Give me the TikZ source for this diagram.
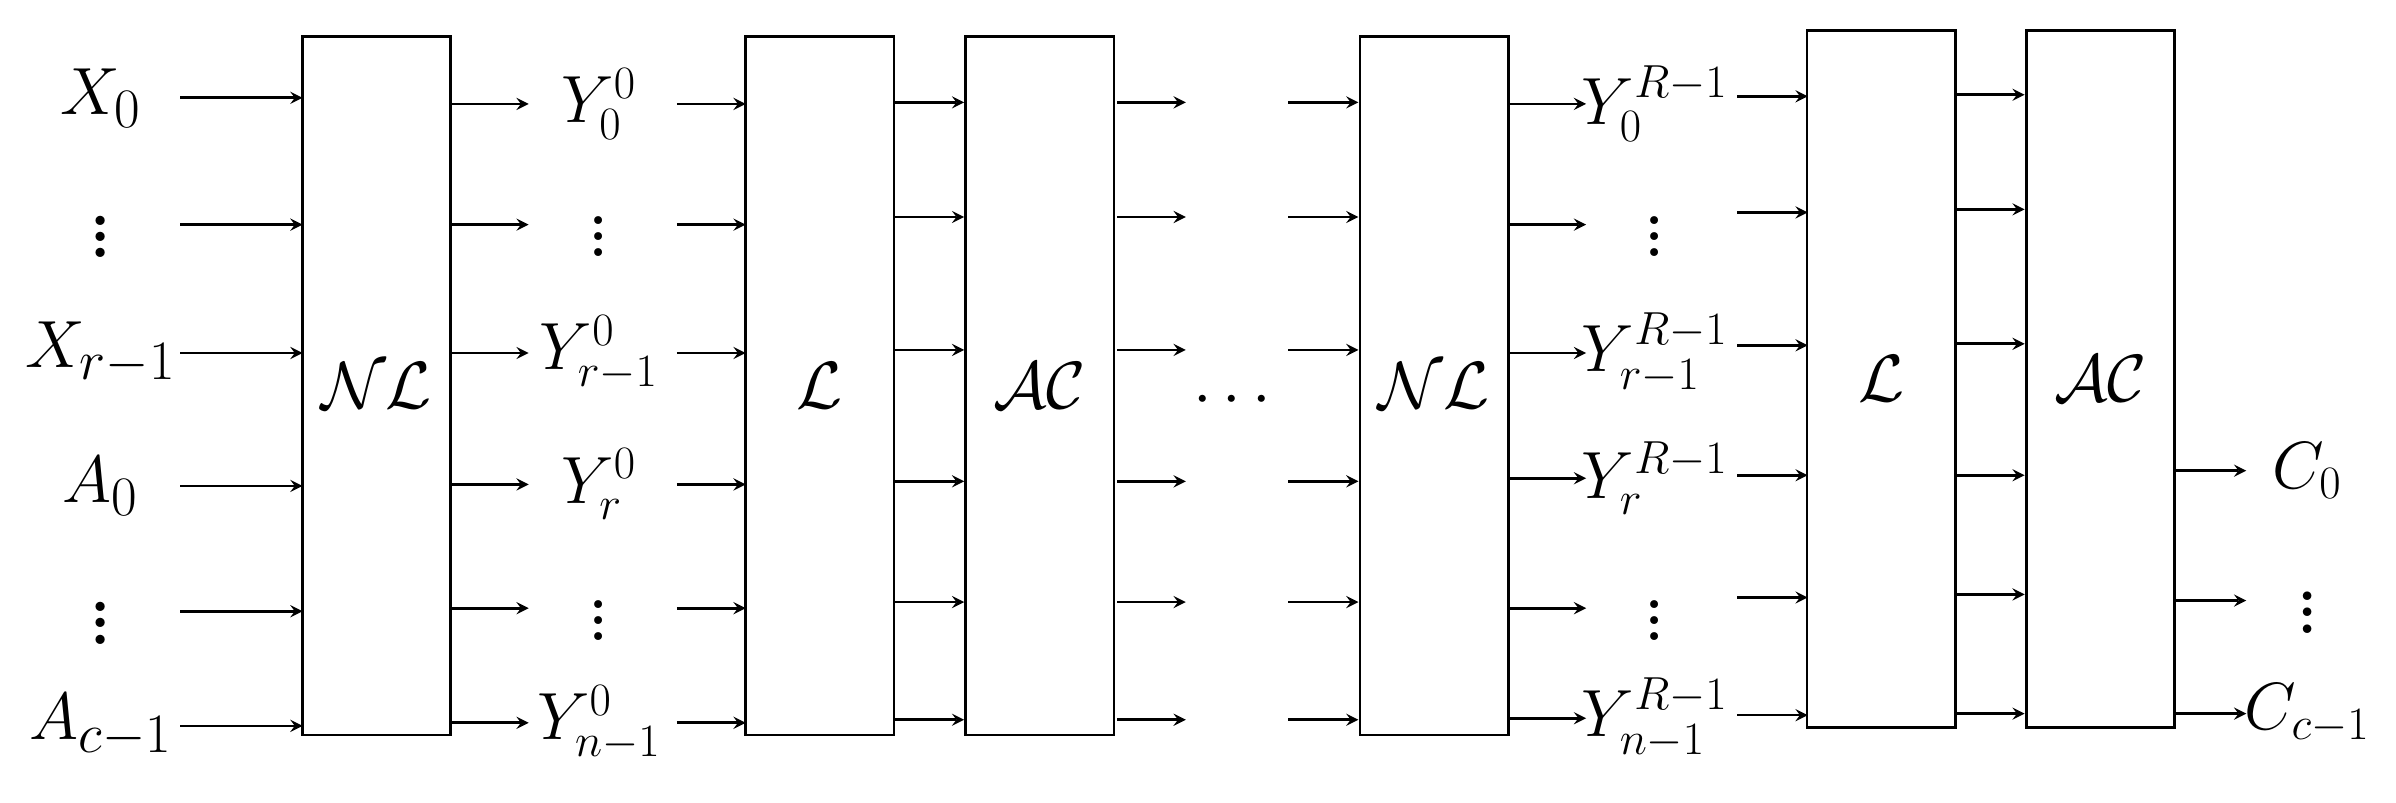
\documentclass[tikz,border=0pt]{standalone}
\usepackage{amsmath}
\usepackage{graphicx}
\newcommand{\bigvd}{\scalebox{1.5}{$\vdots$}}
\begin{document}
\begin{tikzpicture}[x=0.02cm,y=-0.02cm,
 box/.style={draw,line width=1pt,minimum width=97*0.02cm,inner sep=0pt,font=\fontsize{32}{36}\selectfont},
 ar/.style={-stealth,line width=1pt},
 lab/.style={font=\fontsize{28}{32}\selectfont,inner sep=0pt},
 ylab/.style={font=\fontsize{24}{28}\selectfont,inner sep=0pt}]
\useasboundingbox (0,0) rectangle (1568,525);
\newcommand{\bx}[5]{\node[box,minimum height={(#4-#3)*0.02cm}] (#1) at (#2,{(#3+#4)/2}) {$#5$};}
\bx{nla}{246.5}{24}{481}{\mathcal{NL}}
\bx{la}{536.5}{24}{481}{\mathcal{L}}
\bx{aca}{680.5}{24}{481}{\mathcal{AC}}
\bx{nlb}{938.5}{24}{481}{\mathcal{NL}}
\bx{lb}{1231}{20}{476}{\mathcal{L}}
\bx{acb}{1374.5}{20}{476}{\mathcal{AC}}
% inputs
\foreach \y/\t [count=\i] in {64/X_0,147/\bigvd,231/X_{r-1},318/A_0,400/\bigvd,475/A_{c-1}}{
 \node[lab] (in\i) at (66,\y) {$\t$};
 \coordinate (ia\i) at (118,\y);
 \coordinate (ib\i) at (198,\y);
 \draw[ar] (ia\i) -- (ib\i);}
% NL1 outputs and Y labels
\foreach \y/\t [count=\i] in {68/Y_0^0,147/\bigvd,231/Y_{r-1}^0,317/Y_r^0,398/\bigvd,473/Y_{n-1}^0}{
 \coordinate (oa\i) at (296,\y); \coordinate (ob\i) at (346,\y);
 \draw[ar] (oa\i) -- (ob\i);
 \node[ylab] (y\i) at (392,\y) {$\t$};
 \coordinate (pa\i) at (443,\y); \coordinate (pb\i) at (488,\y);
 \draw[ar] (pa\i) -- (pb\i);}
\foreach \y [count=\i] in {67,142,229,315,394,471}{
 \coordinate (qa\i) at (586,\y); \coordinate (qb\i) at (631,\y);
 \draw[ar] (qa\i) -- (qb\i);
 \coordinate (ra\i) at (731,\y); \coordinate (rb\i) at (776,\y);
 \draw[ar] (ra\i) -- (rb\i);
 \coordinate (sa\i) at (843,\y); \coordinate (sb\i) at (889,\y);
 \draw[ar] (sa\i) -- (sb\i);}
\node[lab] (dots) at (810,262) {$\cdots$};
\foreach \y/\t [count=\i] in {68/Y_0^{R-1},147/\bigvd,231/Y_{r-1}^{R-1},313/Y_r^{R-1},398/\bigvd,470/Y_{n-1}^{R-1}}{
 \coordinate (ta\i) at (988,\y); \coordinate (tb\i) at (1038,\y);
 \draw[ar] (ta\i) -- (tb\i);
 \node[ylab] (z\i) at (1083,\y) {$\t$};}
\foreach \y [count=\i] in {63,139,226,311,391,468}{
 \coordinate (ua\i) at (1137,\y); \coordinate (ub\i) at (1183,\y);
 \draw[ar] (ua\i) -- (ub\i);}
\foreach \y [count=\i] in {62,137,225,311,389,467}{
 \coordinate (va\i) at (1280,\y); \coordinate (vb\i) at (1325,\y);
 \draw[ar] (va\i) -- (vb\i);}
\foreach \y/\t [count=\i] in {308/C_0,393/\bigvd,467/C_{c-1}}{
 \coordinate (wa\i) at (1424,\y); \coordinate (wb\i) at (1470,\y);
 \draw[ar] (wa\i) -- (wb\i);
 \node[ylab,font=\fontsize{26}{30}\selectfont] (c\i) at (1510,\y) {$\t$};}
\end{tikzpicture}
\end{document}
